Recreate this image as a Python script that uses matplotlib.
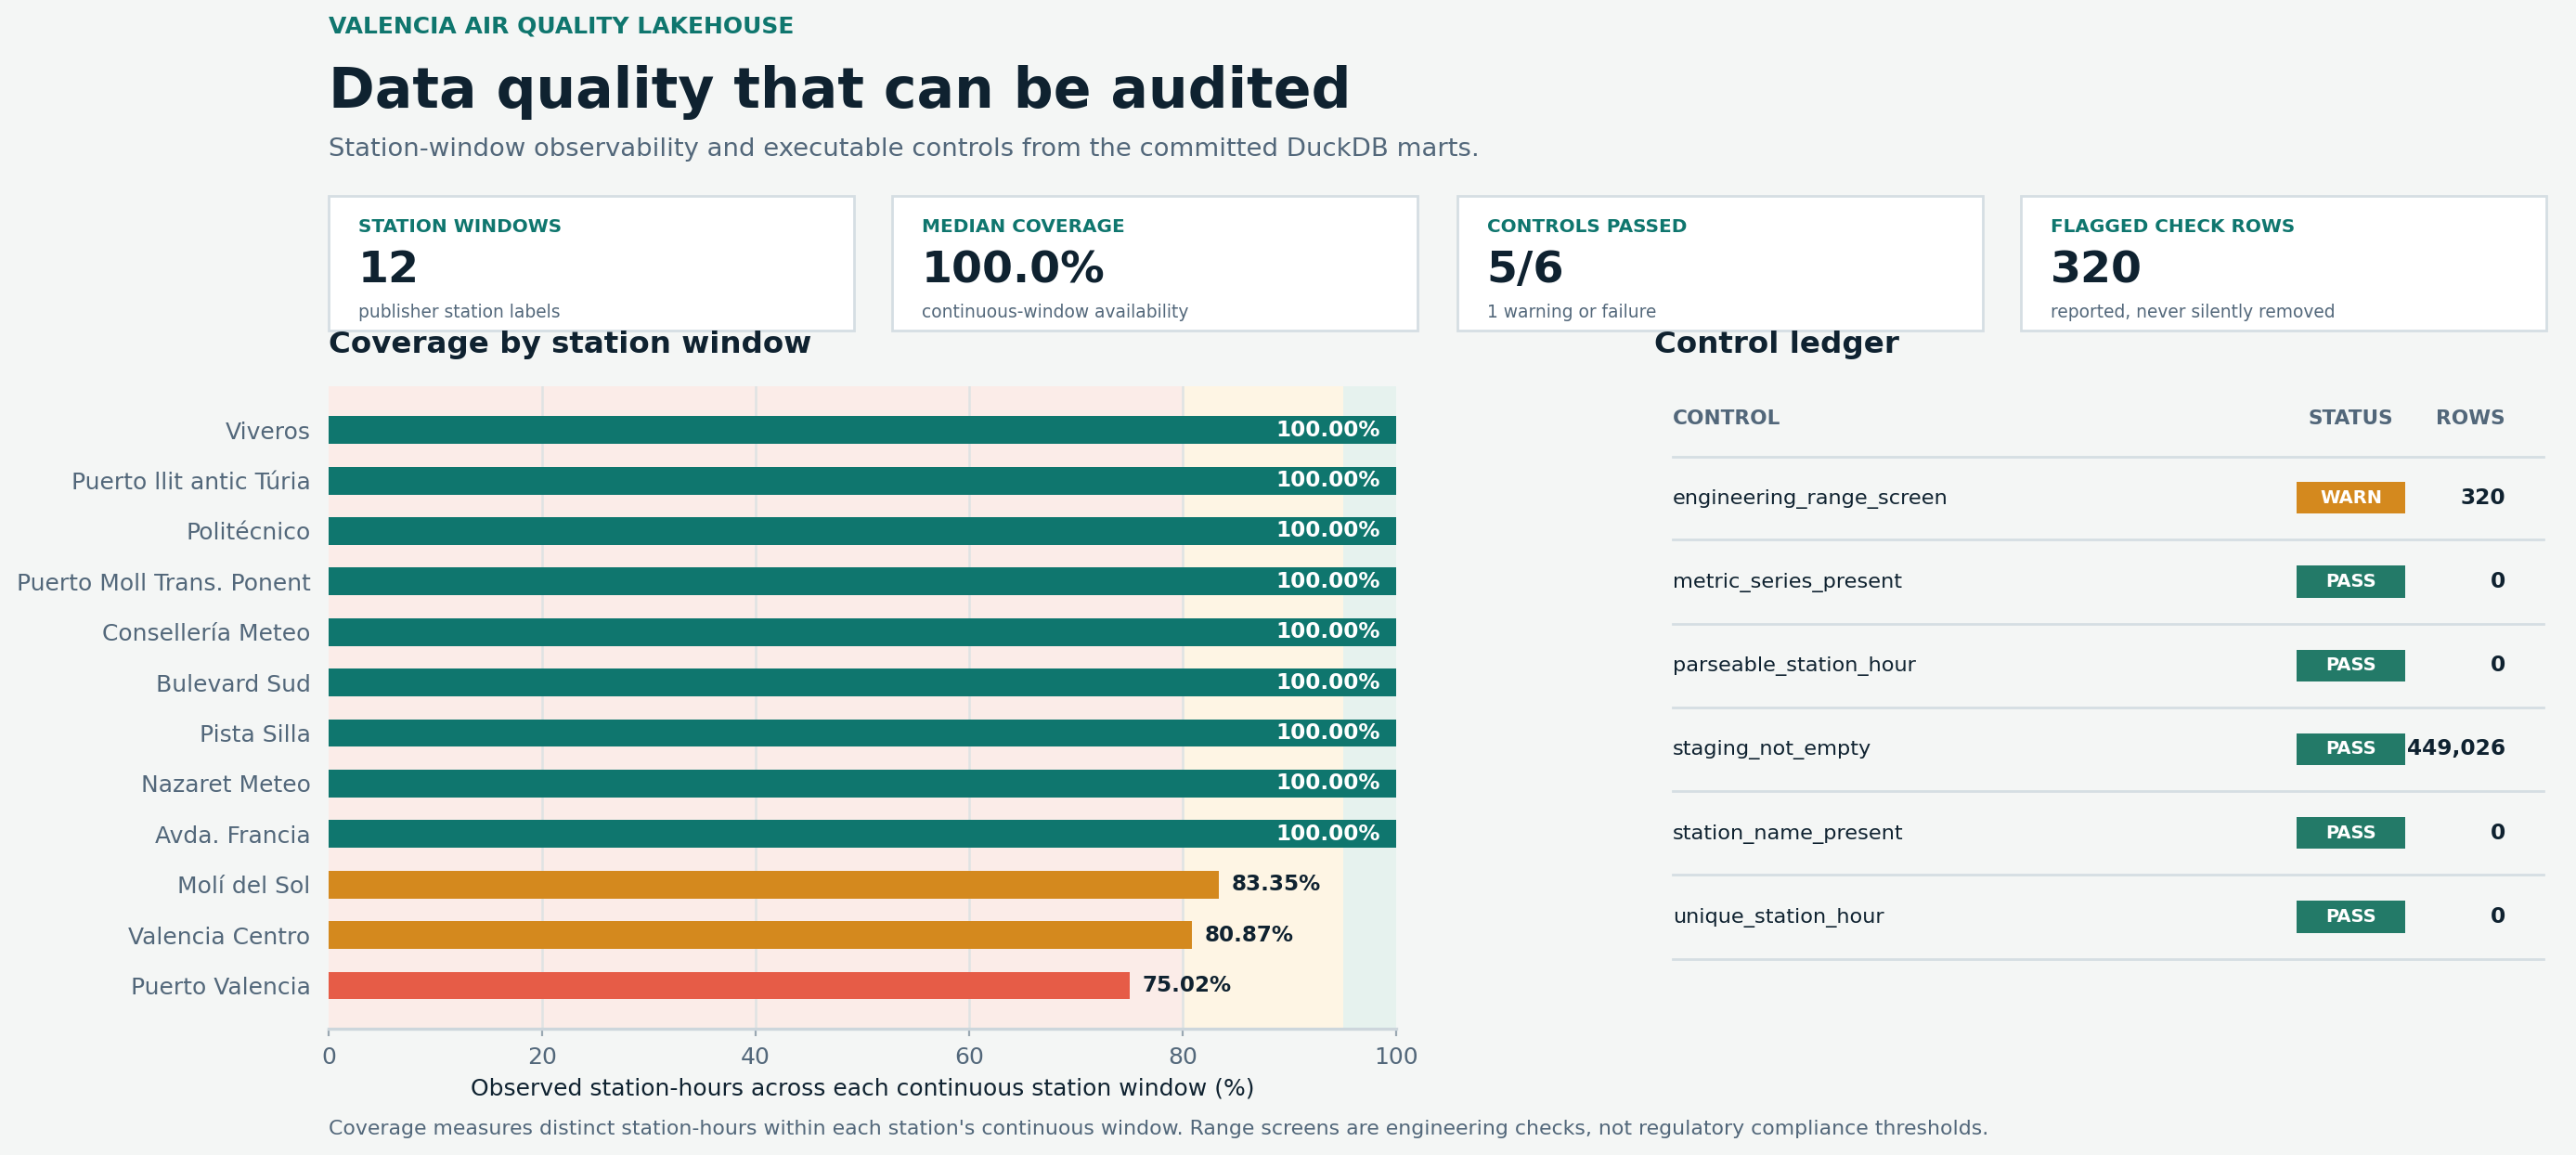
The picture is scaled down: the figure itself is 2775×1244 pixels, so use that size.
import matplotlib
matplotlib.use("Agg")
import matplotlib.pyplot as plt
from matplotlib.patches import Rectangle

plt.rcParams['font.family'] = ['DejaVu Sans']

# ---------------- data ----------------
stations = ["Viveros", "Puerto llit antic Túria", "Politécnico", "Puerto Moll Trans. Ponent",
            "Consellería Meteo", "Bulevard Sud", "Pista Silla", "Nazaret Meteo",
            "Avda. Francia", "Molí del Sol", "Valencia Centro", "Puerto Valencia"]
coverage = [100.0, 100.0, 100.0, 100.0, 100.0, 100.0, 100.0, 100.0, 100.0, 83.35, 80.87, 75.02]

kpi_labels = ["STATION WINDOWS", "MEDIAN COVERAGE", "CONTROLS PASSED", "FLAGGED CHECK ROWS"]
kpi_values = ["12", "100.0%", "5/6", "320"]
kpi_subs = ["publisher station labels", "continuous-window availability",
            "1 warning or failure", "reported, never silently removed"]

controls = ["engineering_range_screen", "metric_series_present", "parseable_station_hour",
            "staging_not_empty", "station_name_present", "unique_station_hour"]
statuses = ["WARN", "PASS", "PASS", "PASS", "PASS", "PASS"]
row_counts = [320, 0, 0, 449026, 0, 0]

x_ticks = [0, 20, 40, 60, 80, 100]

# ---------------- style ----------------
BG = "#f4f6f5"
TEAL = "#0f766e"
PASS_C = "#237a68"
ORANGE = "#d4891e"
RED = "#e65c47"
DARK = "#0f2230"
GRAY = "#52677a"
LINE = "#d5dee3"

W, H = 1568, 703
fig = plt.figure(figsize=(13.875, 6.22), dpi=200, facecolor=BG)

ov = fig.add_axes([0, 0, 1, 1], zorder=0)
ov.set_xlim(0, W)
ov.set_ylim(H, 0)
ov.axis("off")
ov.patch.set_alpha(0)

# header
ov.text(200, 16, "VALENCIA AIR QUALITY LAKEHOUSE", color=TEAL, fontsize=9,
        fontweight="bold", va="center", ha="left")
ov.text(200, 56, "Data quality that can be audited", color=DARK, fontsize=21.6,
        fontweight="bold", va="center", ha="left")
ov.text(200, 91, "Station-window observability and executable controls from the committed DuckDB marts.",
        color=GRAY, fontsize=9.9, va="center", ha="left")

# KPI cards
card_x = [200, 543, 887, 1230]
for cx, lab, val, sub in zip(card_x, kpi_labels, kpi_values, kpi_subs):
    ov.add_patch(Rectangle((cx, 119), 320, 82, facecolor="white", edgecolor=LINE, lw=1.0))
    ov.text(cx + 18, 138, lab, color=TEAL, fontsize=7.2, fontweight="bold", va="center")
    ov.text(cx + 18, 165, val, color=DARK, fontsize=17.1, fontweight="bold", va="center")
    ov.text(cx + 18, 190, sub, color=GRAY, fontsize=6.7, va="center")

# section titles
ov.text(200, 210, "Coverage by station window", color=DARK, fontsize=11.7,
        fontweight="bold", va="center")
ov.text(1007, 210, "Control ledger", color=DARK, fontsize=11.7,
        fontweight="bold", va="center")

# footnote
ov.text(200, 687, "Coverage measures distinct station-hours within each station's continuous window. "
        "Range screens are engineering checks, not regulatory compliance thresholds.",
        color=GRAY, fontsize=7.95, va="center")

# ---------------- table ----------------
ov.text(1018, 255, "CONTROL", color=GRAY, fontsize=7.8, fontweight="bold", va="center")
ov.text(1431, 255, "STATUS", color=GRAY, fontsize=7.8, fontweight="bold", va="center", ha="center")
ov.text(1525, 255, "ROWS", color=GRAY, fontsize=7.8, fontweight="bold", va="center", ha="right")
row_h = 51
ov.plot([1018, 1548], [278, 278], color=LINE, lw=1.0)
for i, (c, s, r) in enumerate(zip(controls, statuses, row_counts)):
    yc = 303 + i * row_h
    ov.text(1018, yc + 0.5, c, color=DARK, fontsize=8.1, va="center")
    col = ORANGE if s == "WARN" else PASS_C
    ov.add_patch(Rectangle((1398, yc - 9.7), 66, 19.4, facecolor=col, edgecolor="none"))
    ov.text(1431, yc, s, color="white", fontsize=7, fontweight="bold", va="center", ha="center")
    ov.text(1525, yc, f"{r:,}", color=DARK, fontsize=8.4, fontweight="bold", va="center", ha="right")
    ov.plot([1018, 1548], [yc + 25.5, yc + 25.5], color=LINE, lw=1.0)

# ---------------- bar chart ----------------
ax = fig.add_axes([200 / W, 1 - 626 / H, 650 / W, (626 - 235) / H], zorder=1)
ax.set_facecolor(BG)
ax.axvspan(0, 80, color="#fbece8", zorder=0, lw=0)
ax.axvspan(80, 95, color="#fef5e4", zorder=0, lw=0)
ax.axvspan(95, 100, color="#e6f2ee", zorder=0, lw=0)
for t in x_ticks[1:-1]:
    ax.axvline(t, color="#dfe3e3", lw=0.9, zorder=0.5)

ypos = list(range(len(stations)))
colors = [TEAL if v >= 95 else (ORANGE if v >= 80 else RED) for v in coverage]
ax.barh(ypos, coverage, height=0.55, color=colors, zorder=2)
for y, v in zip(ypos, coverage):
    if v >= 95:
        ax.text(v - 1.5, y, f"{v:.2f}%", color="white", fontsize=8.3, fontweight="bold",
                va="center", ha="right", zorder=3)
    else:
        ax.text(v + 1.2, y, f"{v:.2f}%", color=DARK, fontsize=8.3, fontweight="bold",
                va="center", ha="left", zorder=3)

ax.set_xlim(0, 100)
ax.set_ylim(len(stations) - 0.15, -0.87)
ax.set_yticks(ypos)
ax.set_yticklabels(stations, color=GRAY, fontsize=9)
ax.set_xticks(x_ticks)
ax.set_xticklabels([str(t) for t in x_ticks], color=GRAY, fontsize=9)
ax.tick_params(axis="y", length=0, pad=7)
ax.tick_params(axis="x", length=3, color="#9aa8b2", pad=4)
for s in ["top", "right", "left"]:
    ax.spines[s].set_visible(False)
ax.spines["bottom"].set_color("#cdd6dc")
ax.spines["bottom"].set_linewidth(1.2)
ax.set_xlabel("Observed station-hours across each continuous station window (%)",
              color=DARK, fontsize=9, labelpad=3.5)

fig.savefig("out.png", dpi=200, facecolor=BG)
